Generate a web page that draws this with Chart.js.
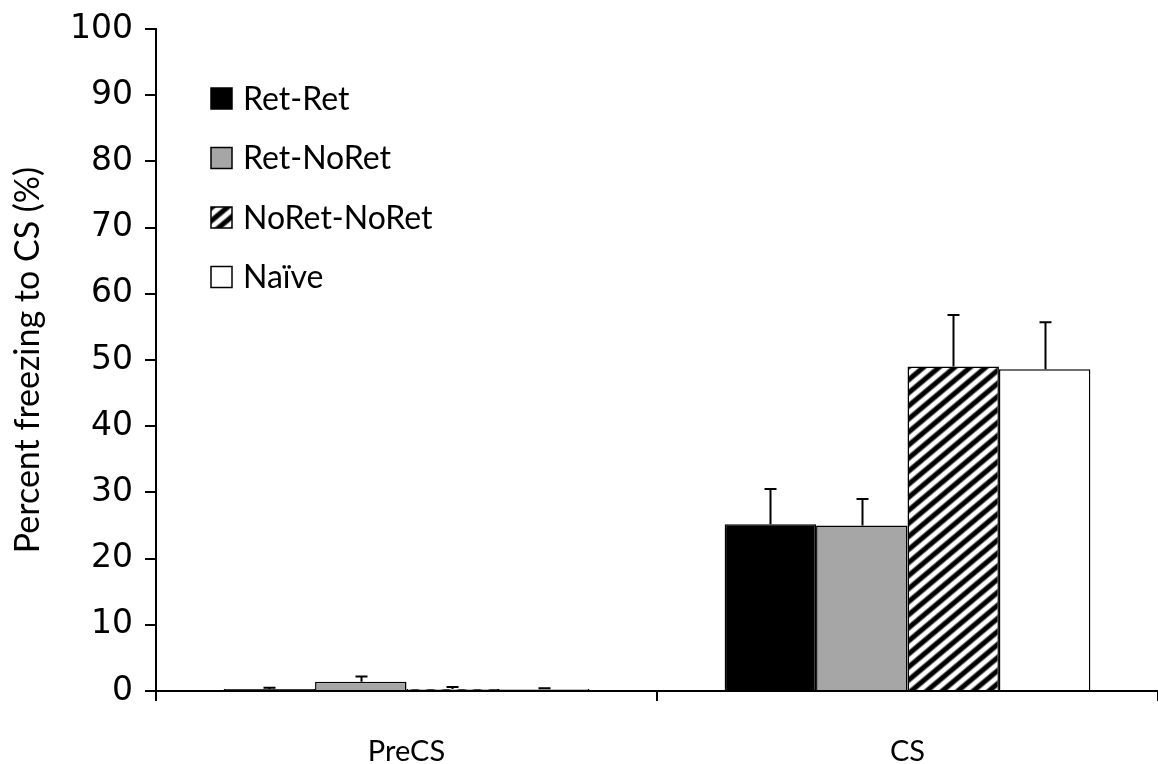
<!DOCTYPE html>
<html>
<head>
<meta charset="utf-8">
<script src="https://cdn.jsdelivr.net/npm/chart.js@4/dist/chart.umd.min.js"></script>
<style>
  html, body { margin: 0; padding: 0; background: #ffffff; }
  #wrap { width: 1158px; height: 764px; position: relative; }
</style>
</head>
<body>
<div id="wrap"><canvas id="chart" width="1158" height="764"></canvas></div>
<script>
// Test phases on the category axis
const categories = ['PreCS', 'CS'];

// Group means (% freezing) and their SEM
const retRet = [0.3, 25.2];
const retRetErr = [0.2, 5.3];
const retNoRet = [1.4, 25.0];
const retNoRetErr = [0.8, 4.0];
const noRetNoRet = [0.3, 49.0];
const noRetNoRetErr = [0.3, 7.8];
const naive = [0.3, 48.6];
const naiveErr = [0.1, 7.1];

// Value axis range
const yMin = 0;
const yMax = 100;
const yStep = 10;

const groupNames = ['Ret-Ret', 'Ret-NoRet', 'NoRet-NoRet', 'Na\u00efve'];

// Diagonal black/white stripe fill
function makeStripes() {
  const tile = document.createElement('canvas');
  tile.width = 20;
  tile.height = 10;
  const t = tile.getContext('2d');
  t.fillStyle = '#ffffff';
  t.fillRect(0, 0, 20, 10);
  t.fillStyle = '#000000';
  t.fillRect(0, 3, 20, 4);
  t.fillStyle = '#777777';
  t.fillRect(0, 2, 20, 1);
  t.fillRect(0, 7, 20, 1);
  const ctx = document.createElement('canvas').getContext('2d');
  const p = ctx.createPattern(tile, 'repeat');
  p.setTransform(new DOMMatrix().rotate(-40));
  return p;
}
const stripes = makeStripes();

const fills = ['#000000', '#a6a6a6', stripes, '#ffffff'];
const values = [retRet, retNoRet, noRetNoRet, naive];
const errors = [retRetErr, retNoRetErr, noRetNoRetErr, naiveErr];

const datasets = groupNames.map((name, i) => ({
  label: name,
  data: values[i],
  errors: errors[i],
  backgroundColor: fills[i],
  borderColor: '#000000',
  borderWidth: 1.5,
  borderSkipped: 'start',
  categoryPercentage: 0.73,
  barPercentage: 1.0
}));

// Upper error whiskers with a short cap
const errorBars = {
  id: 'errorBars',
  afterDatasetsDraw(chart) {
    const ctx = chart.ctx;
    const y = chart.scales.y;
    ctx.save();
    ctx.strokeStyle = '#000000';
    ctx.lineWidth = 2;
    chart.data.datasets.forEach((ds, di) => {
      const meta = chart.getDatasetMeta(di);
      meta.data.forEach((bar, i) => {
        const top = y.getPixelForValue(ds.data[i] + ds.errors[i]);
        const x = Math.round(bar.x) + 0.5;
        ctx.beginPath();
        ctx.moveTo(x, bar.y);
        ctx.lineTo(x, top);
        ctx.moveTo(x - 6, top);
        ctx.lineTo(x + 6, top);
        ctx.stroke();
      });
    });
    ctx.restore();
  }
};

// Legend stacked inside the plot, upper left
const insideLegend = {
  id: 'insideLegend',
  afterDraw(chart) {
    const ctx = chart.ctx;
    const left = 211;
    const firstRow = 98.5;
    const rowGap = 59.5;
    const box = 21;
    ctx.save();
    ctx.font = '32px Lato';
    ctx.textBaseline = 'middle';
    ctx.textAlign = 'left';
    chart.data.datasets.forEach((ds, i) => {
      const cy = firstRow + i * rowGap;
      ctx.fillStyle = ds.backgroundColor;
      ctx.fillRect(left, cy - box / 2, box, box);
      ctx.strokeStyle = '#000000';
      ctx.lineWidth = 1.5;
      ctx.strokeRect(left, cy - box / 2, box, box);
      ctx.fillStyle = '#000000';
      ctx.fillText(ds.label, left + 32, cy + 1);
    });
    ctx.restore();
  }
};

new Chart(document.getElementById('chart'), {
  type: 'bar',
  data: { labels: categories, datasets: datasets },
  options: {
    responsive: false,
    animation: false,
    events: [],
    layout: { padding: { top: 29, right: 0, bottom: 0, left: 0 } },
    plugins: {
      legend: { display: false },
      tooltip: { enabled: false }
    },
    scales: {
      x: {
        z: 1,
        offset: true,
        grid: {
          offset: true,
          drawOnChartArea: false,
          drawTicks: true,
          tickLength: 10,
          lineWidth: 2,
          color: (c) => (c.index === 2 ? 'rgba(0,0,0,0)' : '#000000')
        },
        border: { color: '#000000', width: 2 },
        ticks: {
          color: '#000000',
          font: { family: 'Lato', size: 29 },
          padding: 33,
          maxRotation: 0
        },
        afterFit(scale) { scale.height = 73; }
      },
      y: {
        min: yMin,
        max: yMax,
        grid: {
          drawOnChartArea: false,
          drawTicks: true,
          tickLength: 11,
          lineWidth: 2,
          color: '#000000'
        },
        border: { color: '#000000', width: 2 },
        ticks: {
          stepSize: yStep,
          color: '#000000',
          font: { family: 'DejaVu Sans', size: 33 },
          padding: 12
        },
        title: {
          display: true,
          text: 'Percent freezing to CS (%)',
          color: '#000000',
          font: { family: 'Lato', size: 34, weight: 'normal' },
          padding: { top: 8, bottom: 0 }
        },
        afterFit(scale) {
          scale.width = 156;
          scale.paddingTop = 0;
          scale.paddingBottom = 0;
        }
      }
    }
  },
  plugins: [errorBars, insideLegend]
});
</script>
</body>
</html>
